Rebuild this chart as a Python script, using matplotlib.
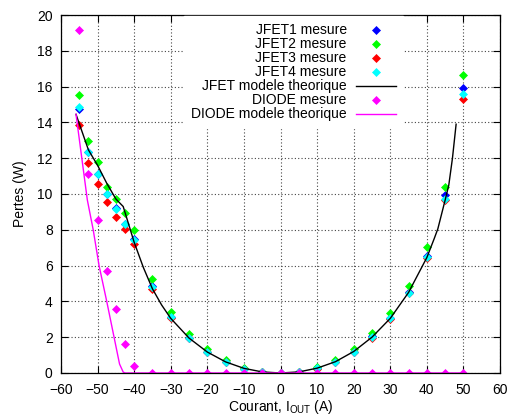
import matplotlib
matplotlib.use('Agg')
import matplotlib.pyplot as plt

plt.rcParams['font.family'] = ['Liberation Sans', 'DejaVu Sans']
plt.rcParams['mathtext.fontset'] = 'custom'
plt.rcParams['mathtext.rm'] = 'Liberation Sans'
plt.rcParams['mathtext.it'] = 'Liberation Sans'

# mesures (courant en A, pertes en W)
courant = [-55, -52.5, -50, -47.5, -45, -42.5, -40, -35, -30, -25, -20, -15, -10,
           -5, 0, 5, 10, 15, 20, 25, 30, 35, 40, 45, 50]
jfet1 = [14.75, 12.36, 11.12, 10.02, 9.20, 8.35, 7.46, 4.85, 3.12, 1.98, 1.19, 0.63, 0.25,
         0.07, 0.0, 0.05, 0.26, 0.63, 1.19, 2.05, 3.07, 4.53, 6.54, 9.94, 15.90]
jfet2 = [15.53, 12.96, 11.77, 10.37, 9.72, 8.92, 7.99, 5.25, 3.43, 2.16, 1.32, 0.71, 0.30,
         0.08, 0.0, 0.08, 0.32, 0.73, 1.34, 2.22, 3.33, 4.86, 7.06, 10.41, 16.65]
jfet3 = [13.85, 11.73, 10.57, 9.54, 8.70, 8.03, 7.19, 4.69, 3.05, 1.93, 1.17, 0.62, 0.25,
         0.07, 0.0, 0.05, 0.25, 0.61, 1.16, 1.98, 3.00, 4.45, 6.40, 9.64, 15.31]
jfet4 = [14.88, 12.33, 11.10, 10.00, 9.16, 8.32, 7.43, 4.82, 3.15, 1.97, 1.19, 0.63, 0.25,
         0.07, 0.0, 0.05, 0.26, 0.63, 1.19, 2.03, 3.05, 4.49, 6.46, 9.72, 15.59]

courant_diode = [-55, -52.5, -50, -47.5, -45, -42.5, -40, -35, -30, -25, -20, -15, -10,
                 -5, 0, 5, 10, 15, 20, 25, 30, 35, 40, 45, 50]
diode = [19.16, 11.12, 8.55, 5.72, 3.56, 1.62, 0.39, 0, 0, 0, 0, 0, 0,
         0, 0, 0, 0, 0, 0, 0, 0, 0, 0, 0, 0]

# modeles theoriques
i_jfet_mod = [-55.9, -52.5, -50, -47.5, -45, -43, -40, -37.5, -35, -32.5, -30, -25, -20,
              -15, -10, -5, 0, 5, 10, 15, 20, 25, 30, 35, 40, 42, 43, 45, 46, 47, 48]
p_jfet_mod = [14.45, 12.46, 11.6, 10.6, 9.72, 9.3, 7.3, 5.9, 4.7, 3.8, 3.05, 1.95, 1.17,
              0.62, 0.26, 0.06, 0.0, 0.06, 0.27, 0.63, 1.2, 2.0, 3.05, 4.5, 6.45, 7.5, 8.05,
              9.66, 10.5, 12.0, 13.9]
i_diode_mod = [-55.9, -52.8, -51.2, -49.6, -47.5, -45.5, -44.0, -43.0, -42.5, 50]
p_diode_mod = [14.45, 9.66, 8.0, 6.0, 4.0, 2.0, 0.5, 0.05, 0.0, 0.0]

fig = plt.figure(figsize=(5.11, 4.19), dpi=100)
ax = fig.add_axes([0.1194, 0.1098, 0.8591, 0.8544])

mk = dict(marker='D', ms=3.6, mew=0.5, ls='none')
ax.plot(courant, jfet1, color='#0000ff', mec='#0000ff', label='JFET1 mesure', **mk)
ax.plot(courant, jfet2, color='#00ff00', mec='#00ff00', label='JFET2 mesure', **mk)
ax.plot(courant, jfet3, color='#ff0000', mec='#ff0000', label='JFET3 mesure', **mk)
ax.plot(courant, jfet4, color='#00ffff', mec='#00ffff', label='JFET4 mesure', **mk)
ax.plot(i_jfet_mod, p_jfet_mod, color='black', lw=1.0, label='JFET modele theorique')
ax.plot(courant_diode, diode, color='#ff00ff', mec='#ff00ff', label='DIODE mesure', **mk)
ax.plot(i_diode_mod, p_diode_mod, color='#ff00ff', lw=1.0, label='DIODE modele theorique')

ax.set_xlim(-60, 60)
ax.set_ylim(0, 20)
ax.set_xticks(range(-60, 61, 10))
ax.set_yticks(range(0, 21, 2))
ax.tick_params(direction='in', length=5, width=0.8, labelsize=10,
               top=True, right=True)
ax.tick_params(axis='x', pad=7)
ax.tick_params(axis='y', pad=6)
ax.grid(True, color='#444444', lw=0.8, ls=(0, (1, 2)))
ax.set_axisbelow(True)
for s in ax.spines.values():
    s.set_linewidth(0.9)

ax.set_xlabel('Courant, I$_{\\mathrm{OUT}}$ (A)', fontsize=10, labelpad=1)
ax.set_ylabel('Pertes (W)', fontsize=10, labelpad=7)

leg = ax.legend(loc='upper right', bbox_to_anchor=(0.779, 0.996), markerfirst=False,
                numpoints=1, fontsize=10, handlelength=2.9, handletextpad=0.65,
                labelspacing=0.0, borderpad=0.5, borderaxespad=0.0,
                frameon=True, fancybox=False, framealpha=1.0, edgecolor='white')

fig.savefig('out.png', dpi=100)
